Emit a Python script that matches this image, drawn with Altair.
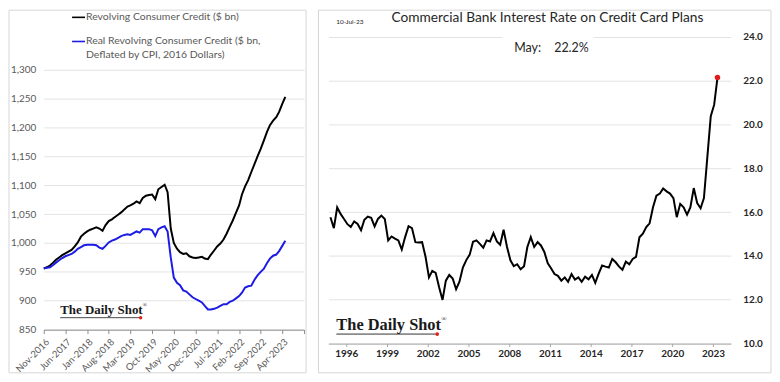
import altair as alt
import pandas as pd

FONT = "Lato"

# ---------------- Left panel data (monthly, Nov-2016 .. May-2023) ----------------
months = [d.strftime("%Y-%m-%dT00:00:00") for d in pd.date_range("2016-11-01", periods=79, freq="MS")]
revolving = [
    956, 958, 961, 966, 971, 975, 979, 982, 985, 988,
    994, 1001, 1011, 1016, 1020, 1023, 1025, 1027, 1025, 1021,
    1031, 1038, 1041, 1045, 1049, 1053, 1058, 1063, 1065, 1068,
    1072, 1069, 1078, 1082, 1083, 1084, 1076, 1093, 1097, 1101,
    1088, 1025, 1000, 990, 984, 981, 982, 977, 975, 974,
    975, 976, 973, 972, 980, 987, 994, 999, 1006, 1016,
    1028, 1039, 1052, 1065, 1084, 1098, 1109, 1123, 1136, 1150,
    1163, 1177, 1192, 1204, 1212, 1218, 1227, 1241, 1253,
]
real_revolving = [
    956, 957, 958, 962, 966, 970, 974, 977, 979, 981,
    985, 990, 993, 996, 997, 997, 997, 996, 992, 990,
    995, 1001, 1004, 1006, 1009, 1012, 1014, 1015, 1014, 1017,
    1020, 1018, 1024, 1024, 1024, 1022, 1012, 1024, 1027, 1029,
    1020, 975, 940, 931, 927, 918, 916, 911, 906, 903,
    900, 897, 891, 885, 885, 886, 888, 891, 894, 894,
    898, 900, 904, 908, 914, 923, 925, 926, 936, 944,
    950, 955, 965, 973, 978, 980, 986, 995, 1004,
]
series_names = [
    "Revolving Consumer Credit ($ bn)",
    "Real Revolving Consumer Credit ($ bn, Deflated by CPI, 2016 Dollars)",
]
left_tick_months = [(2016, 11), (2017, 6), (2018, 1), (2018, 8), (2019, 3), (2019, 10),
                    (2020, 5), (2020, 12), (2021, 7), (2022, 2), (2022, 9), (2023, 4), (2023, 11)]
left_y_ticks = [850, 900, 950, 1000, 1050, 1100, 1150, 1200, 1250, 1300]

# ---------------- Right panel data (quarterly, Nov-1994 .. May-2023) ----------------
quarters = [d.strftime("%Y-%m-%dT00:00:00") for d in pd.date_range("1994-11-01", periods=115, freq="3MS")]
rate = [
    15.77, 15.27, 16.22, 15.92, 15.69, 15.45, 15.32, 15.58, 15.46, 15.17,
    15.65, 15.80, 15.74, 15.35, 15.69, 15.84, 15.69, 14.71, 14.89, 14.79,
    14.71, 14.29, 14.86, 15.36, 15.27, 14.63, 14.61, 14.63, 13.96, 13.02,
    13.32, 13.23, 12.57, 11.99, 12.87, 13.13, 12.97, 12.48, 12.82, 13.47,
    13.81, 14.06, 14.65, 14.71, 14.55, 14.38, 14.71, 14.66, 15.04, 14.66,
    14.51, 15.20, 14.41, 13.80, 13.53, 13.62, 13.39, 13.53, 14.41, 14.86,
    14.41, 14.63, 14.48, 14.18, 13.66, 13.43, 13.17, 13.09, 12.87, 13.02,
    12.82, 13.17, 12.92, 13.02, 12.82, 13.05, 12.93, 13.13, 12.77, 13.19,
    13.56, 13.51, 13.47, 13.86, 13.71, 13.51, 13.37, 13.74, 13.62, 13.86,
    13.96, 14.85, 15.02, 15.32, 15.49, 16.22, 16.75, 16.85, 17.08, 16.95,
    16.85, 16.64, 15.77, 16.38, 16.22, 15.89, 16.22, 17.10, 16.41, 16.18,
    16.64, 18.51, 20.38, 20.91, 22.15,
]
right_tick_years = [1996, 1999, 2002, 2005, 2008, 2011, 2014, 2017, 2020, 2023]
right_y_ticks = [10, 12, 14, 16, 18, 20, 22, 24]

title_text = "Commercial Bank Interest Rate on Credit Card Plans"
date_text = "10-Jul-23"
latest_label = "May:"
latest_value = "22.2%"
brand = "The Daily Shot"

# ---------------- helpers ----------------
def one(t=""):
    return alt.Chart(pd.DataFrame({"t": [t]}))

# ---------------- Left panel ----------------
LW, LH = 262, 294.5
df_left = pd.DataFrame({
    "date": months + months,
    "series": [series_names[0]] * len(months) + [series_names[1]] * len(months),
    "value": revolving + real_revolving,
    "order": [0] * len(months) + [1] * len(months),
})

x_left = alt.X(
    "date:T", title=None,
    scale=alt.Scale(domain=[alt.DateTime(year=2016, month=11, date=1),
                            alt.DateTime(year=2023, month=11, date=1)]),
    axis=alt.Axis(
        values=[alt.DateTime(year=y, month=m, date=1) for y, m in left_tick_months],
        labelExpr="datum.value >= datetime(2023, 9, 1) ? '' : timeFormat(datum.value, '%b-%Y')",
        labelAngle=-45, labelAlign="right", labelBaseline="top",
        labelFlush=False, labelOverlap=False, grid=False,
        tickSize=4, labelPadding=3, tickColor="#8c8c8c", domainColor="#8c8c8c",
        labelColor="#595959", labelFontSize=9.5, labelFont=FONT,
    ),
)
y_left = alt.Y(
    "value:Q", title=None,
    scale=alt.Scale(domain=[850, 1300], nice=False, zero=False, range=[294.5, 33]),
    axis=alt.Axis(values=left_y_ticks, format=",.0f", grid=True, gridColor="#e3e3e3",
                  domain=False, ticks=False, labelPadding=8, labelColor="#595959",
                  labelFontSize=10, labelFont=FONT),
)

left_border = one().mark_rect(fill="white", fillOpacity=0, stroke="#d6d6d6", strokeWidth=1).encode(
    x=alt.value(-35), x2=alt.value(264), y=alt.value(-27), y2=alt.value(338))
left_lines = alt.Chart(df_left).mark_line(strokeWidth=2).encode(
    x=x_left, y=y_left,
    color=alt.Color("series:N", legend=None,
                    scale=alt.Scale(domain=series_names, range=["#000000", "#1c1ce6"])),
    order="order:Q",
)
leg_black = one().mark_rule(color="#000000", strokeWidth=1.6).encode(
    x=alt.value(28.5), x2=alt.value(41.5), y=alt.value(-19.8))
leg_blue = one().mark_rule(color="#1c1ce6", strokeWidth=1.6).encode(
    x=alt.value(28.5), x2=alt.value(41.5), y=alt.value(4.5))
leg_t1 = one(series_names[0]).mark_text(align="left", baseline="middle", font=FONT, fontSize=10.5,
                                        color="#595959").encode(
    x=alt.value(42.5), y=alt.value(-19.8), text="t:N")
leg_t2 = one("Real Revolving Consumer Credit ($ bn,").mark_text(
    align="left", baseline="middle", font=FONT, fontSize=10.5, color="#595959").encode(
    x=alt.value(42.5), y=alt.value(4.5), text="t:N")
leg_t3 = one("Deflated by CPI, 2016 Dollars)").mark_text(
    align="left", baseline="middle", font=FONT, fontSize=10.5, color="#595959").encode(
    x=alt.value(42.5), y=alt.value(17.8), text="t:N")

wm_l_text = one(brand).mark_text(align="left", baseline="alphabetic", font="Liberation Serif",
                                 fontWeight="bold", fontSize=13, color="#1a1a1a").encode(
    x=alt.value(16.5), y=alt.value(279), text="t:N")
wm_l_reg = one("®").mark_text(align="left", baseline="alphabetic", font="Liberation Serif",
                              fontSize=6, color="#1a1a1a").encode(
    x=alt.value(99.5), y=alt.value(272), text="t:N")
wm_l_line = one().mark_rule(color="#1a1a1a", strokeWidth=0.8).encode(
    x=alt.value(16.5), x2=alt.value(96), y=alt.value(282.5))
wm_l_dot = one().mark_point(filled=True, color="#e0201b", size=12, opacity=1).encode(
    x=alt.value(97.5), y=alt.value(282.5))

left = alt.layer(left_border, left_lines, leg_black, leg_blue, leg_t1, leg_t2, leg_t3,
                 wm_l_line, wm_l_text, wm_l_reg, wm_l_dot).properties(width=LW, height=LH)

# ---------------- Right panel ----------------
RW, RH = 405, 308.5
df_right = pd.DataFrame({"date": quarters, "rate": rate})
df_last = df_right.tail(1)

x_right = alt.X(
    "date:T", title=None,
    scale=alt.Scale(domain=[alt.DateTime(year=1994, month=9, date=7),
                            alt.DateTime(year=2024, month=4, date=22)]),
    axis=alt.Axis(
        values=[alt.DateTime(year=y, month=1, date=1) for y in right_tick_years],
        format="%Y", labelFlush=False, labelOverlap=False, grid=False,
        tickSize=3, labelPadding=2, tickColor="#a6a6a6", domainColor="#a6a6a6",
        labelColor="#262626", labelFontWeight="bold", labelFontSize=10, labelFont=FONT,
    ),
)
y_right = alt.Y(
    "rate:Q", title=None,
    scale=alt.Scale(domain=[10, 24], nice=False, zero=False),
    axis=alt.Axis(orient="right", values=right_y_ticks, format=".1f", grid=True,
                  gridColor="#e3e3e3", domain=False, ticks=False, labelPadding=12,
                  labelColor="#262626", labelFontWeight="bold", labelFontSize=10,
                  labelFont=FONT),
)

right_border = one().mark_rect(fill="white", fillOpacity=0, stroke="#d6d6d6", strokeWidth=1).encode(
    x=alt.value(-10), x2=alt.value(445.5), y=alt.value(-27), y2=alt.value(338))
right_line = alt.Chart(df_right).mark_line(color="#000000", strokeWidth=2).encode(x=x_right, y=y_right)
right_dot = alt.Chart(df_last).mark_point(filled=True, color="#e31a1c", size=30, opacity=1).encode(
    x=x_right, y=y_right)
title_mark = one(title_text).mark_text(align="center", baseline="middle", font=FONT, fontSize=13.8,
                                       color="#262626").encode(
    x=alt.value(220.5), y=alt.value(-19), text="t:N")
date_mark = one(date_text).mark_text(align="left", baseline="middle", font=FONT, fontSize=6.5,
                                     color="#262626").encode(
    x=alt.value(8), y=alt.value(-15.5), text="t:N")
box = one().mark_rect(fill="white").encode(
    x=alt.value(175), x2=alt.value(267), y=alt.value(-5), y2=alt.value(23))
latest_mark1 = one(latest_label).mark_text(align="left", baseline="middle", font=FONT, fontSize=12.5,
                                           color="#262626").encode(
    x=alt.value(187), y=alt.value(11.5), text="t:N")
latest_mark2 = one(latest_value).mark_text(align="right", baseline="middle", font=FONT, fontSize=12.5,
                                           color="#262626").encode(
    x=alt.value(262), y=alt.value(11.5), text="t:N")

wm_r_text = one(brand).mark_text(align="left", baseline="alphabetic", font="Liberation Serif",
                                 fontWeight="bold", fontSize=16.5, color="#1a1a1a").encode(
    x=alt.value(8), y=alt.value(295), text="t:N")
wm_r_reg = one("®").mark_text(align="left", baseline="alphabetic", font="Liberation Serif",
                              fontSize=7, color="#1a1a1a").encode(
    x=alt.value(113.5), y=alt.value(286), text="t:N")
wm_r_line = one().mark_rule(color="#1a1a1a", strokeWidth=0.9).encode(
    x=alt.value(8), x2=alt.value(108), y=alt.value(299))
wm_r_dot = one().mark_point(filled=True, color="#e0201b", size=14, opacity=1).encode(
    x=alt.value(109.5), y=alt.value(299))

right = alt.layer(right_border, right_line, right_dot, title_mark, date_mark, box,
                  latest_mark1, latest_mark2,
                  wm_r_line, wm_r_text, wm_r_reg, wm_r_dot).properties(width=RW, height=RH)

chart = alt.hconcat(left, right, spacing=6.5).properties(padding=0).configure(
    font=FONT, background="white").configure_view(strokeWidth=0)

chart.save("out.html", embed_options={"renderer": "svg", "actions": False})
